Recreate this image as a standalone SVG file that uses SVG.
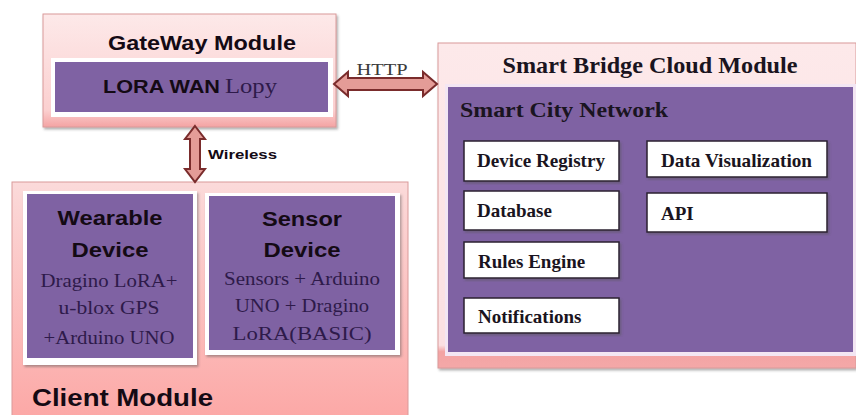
<svg xmlns="http://www.w3.org/2000/svg" width="856" height="415" viewBox="0 0 856 415">
<defs>
<linearGradient id="pinkV" x1="0" y1="0" x2="0" y2="1">
<stop offset="0" stop-color="#fde9e9"/>
<stop offset="0.85" stop-color="#fbd0d0"/>
<stop offset="1" stop-color="#f4a3a3"/>
</linearGradient>
<linearGradient id="pinkClient" x1="0" y1="0" x2="0" y2="1">
<stop offset="0" stop-color="#fbdada"/>
<stop offset="1" stop-color="#fca6a4"/>
</linearGradient>
<linearGradient id="pinkCloud" x1="0" y1="0" x2="0" y2="1">
<stop offset="0" stop-color="#fde9ea"/>
<stop offset="0.93" stop-color="#fbe0e2"/>
<stop offset="0.95" stop-color="#f3a3a3"/>
<stop offset="1" stop-color="#f4a8a8"/>
</linearGradient>
<filter id="sh" x="-5%" y="-5%" width="110%" height="115%">
<feDropShadow dx="1.5" dy="2" stdDeviation="1.2" flood-color="#555" flood-opacity="0.45"/>
</filter>
</defs>
<style>
.purple{fill:#7f62a3}
.wframe{fill:#ffffff}
.sansB{font-family:"Liberation Sans",Arial,sans-serif;font-weight:bold;fill:#140a14}
.serif{font-family:"Liberation Serif","Times New Roman",serif;fill:#2e1a4a}
.serifB{font-family:"Liberation Serif","Times New Roman",serif;font-weight:bold;fill:#1a1420}
.box{fill:#ffffff;stroke:#2a2030;stroke-width:1.5}
.boxt{font-size:19px}
.arrow{fill:#e49c97;stroke:#7a2c2c;stroke-width:2;stroke-linejoin:miter}
</style>

<g id="gateway">
<rect x="43" y="14" width="293" height="113" fill="url(#pinkV)" stroke="#d99a9a" stroke-width="1" filter="url(#sh)"/>
<text class="sansB" x="202" y="50" font-size="21" text-anchor="middle" textLength="188" lengthAdjust="spacingAndGlyphs">GateWay Module</text>
<rect class="wframe" x="51" y="58" width="282" height="59"/>
<rect class="purple" x="55" y="62" width="273" height="50"/>
<text class="sansB" x="103" y="93" font-size="19" textLength="117" lengthAdjust="spacingAndGlyphs">LORA WAN</text>
<text class="serif" x="225" y="93" font-size="20" fill="#4a3470" textLength="52" lengthAdjust="spacingAndGlyphs">Lopy</text>
</g>

<g id="cloud">
<rect x="438" y="43" width="418" height="325" fill="url(#pinkCloud)" stroke="#d99a9a" stroke-width="1" filter="url(#sh)"/>
<text class="serifB" x="650" y="73" font-size="23" text-anchor="middle" textLength="295" lengthAdjust="spacingAndGlyphs">Smart Bridge Cloud Module</text>
<rect x="445" y="84" width="411" height="272" fill="#f3e6f3"/>
<rect class="purple" x="448" y="87" width="405" height="265"/>
<text class="serifB" x="460" y="117" font-size="22" fill="#1c1838" textLength="208" lengthAdjust="spacingAndGlyphs">Smart City Network</text>
</g>

<g id="device-registry">
<rect class="box" x="464" y="141" width="155" height="40" filter="url(#sh)"/>
<text class="serifB boxt" x="477" y="167" textLength="128" lengthAdjust="spacingAndGlyphs">Device Registry</text>
</g>
<g id="database">
<rect class="box" x="464" y="191" width="155" height="39" filter="url(#sh)"/>
<text class="serifB boxt" x="477" y="217">Database</text>
</g>
<g id="rules-engine">
<rect class="box" x="464" y="242" width="155" height="36" filter="url(#sh)"/>
<text class="serifB boxt" x="478" y="268">Rules Engine</text>
</g>
<g id="notifications">
<rect class="box" x="464" y="298" width="155" height="35" filter="url(#sh)"/>
<text class="serifB boxt" x="478" y="323">Notifications</text>
</g>
<g id="data-visualization">
<rect class="box" x="647" y="141" width="180" height="36" filter="url(#sh)"/>
<text class="serifB boxt" x="661" y="167" textLength="151" lengthAdjust="spacingAndGlyphs">Data Visualization</text>
</g>
<g id="api">
<rect class="box" x="647" y="193" width="180" height="39" filter="url(#sh)"/>
<text class="serifB boxt" x="661" y="220">API</text>
</g>

<g id="client">
<rect x="12" y="182" width="396" height="245" fill="url(#pinkClient)" stroke="#d99a9a" stroke-width="1"/>
<text class="sansB" x="32" y="406" font-size="24" textLength="181" lengthAdjust="spacingAndGlyphs">Client Module</text>
</g>

<g id="wearable">
<rect class="wframe" x="23" y="191" width="174" height="174" filter="url(#sh)"/>
<rect class="purple" x="27" y="194" width="166" height="164"/>
<text class="sansB" x="110" y="225" font-size="20" text-anchor="middle" textLength="105" lengthAdjust="spacingAndGlyphs">Wearable</text>
<text class="sansB" x="110" y="257" font-size="20" text-anchor="middle" textLength="77" lengthAdjust="spacingAndGlyphs">Device</text>
<text class="serif" x="109" y="287" font-size="19" text-anchor="middle" textLength="137" lengthAdjust="spacingAndGlyphs">Dragino LoRA+</text>
<text class="serif" x="109" y="314" font-size="19" text-anchor="middle" textLength="101" lengthAdjust="spacingAndGlyphs">u-blox GPS</text>
<text class="serif" x="109" y="344" font-size="19" text-anchor="middle" textLength="131" lengthAdjust="spacingAndGlyphs">+Arduino UNO</text>
</g>

<g id="sensor">
<rect class="wframe" x="205" y="193" width="195" height="162" filter="url(#sh)"/>
<rect class="purple" x="209" y="196" width="186" height="154"/>
<text class="sansB" x="302" y="226" font-size="20" text-anchor="middle" textLength="80" lengthAdjust="spacingAndGlyphs">Sensor</text>
<text class="sansB" x="302" y="257" font-size="20" text-anchor="middle" textLength="77" lengthAdjust="spacingAndGlyphs">Device</text>
<text class="serif" x="302" y="285" font-size="19" text-anchor="middle" textLength="156" lengthAdjust="spacingAndGlyphs">Sensors + Arduino</text>
<text class="serif" x="302" y="312" font-size="19" text-anchor="middle" textLength="134" lengthAdjust="spacingAndGlyphs">UNO + Dragino</text>
<text class="serif" x="302" y="340" font-size="19" text-anchor="middle" textLength="139" lengthAdjust="spacingAndGlyphs">LoRA(BASIC)</text>
</g>

<g id="connectors">
<path class="arrow" d="M334,84 L348,72 L348,78 L423,78 L423,72 L437,84 L423,96 L423,90 L348,90 L348,96 Z"/>
<text x="382" y="75" font-family="'Liberation Serif','Times New Roman',serif" font-size="17" fill="#3a3a3a" text-anchor="middle" textLength="51" lengthAdjust="spacingAndGlyphs">HTTP</text>
<path class="arrow" d="M195,126 L205,139 L200,139 L200,169 L205,169 L195,182 L185,169 L190,169 L190,139 L185,139 Z"/>
<text class="sansB" x="208" y="159" font-size="13" textLength="69" lengthAdjust="spacingAndGlyphs">Wireless</text>
</g>
</svg>
